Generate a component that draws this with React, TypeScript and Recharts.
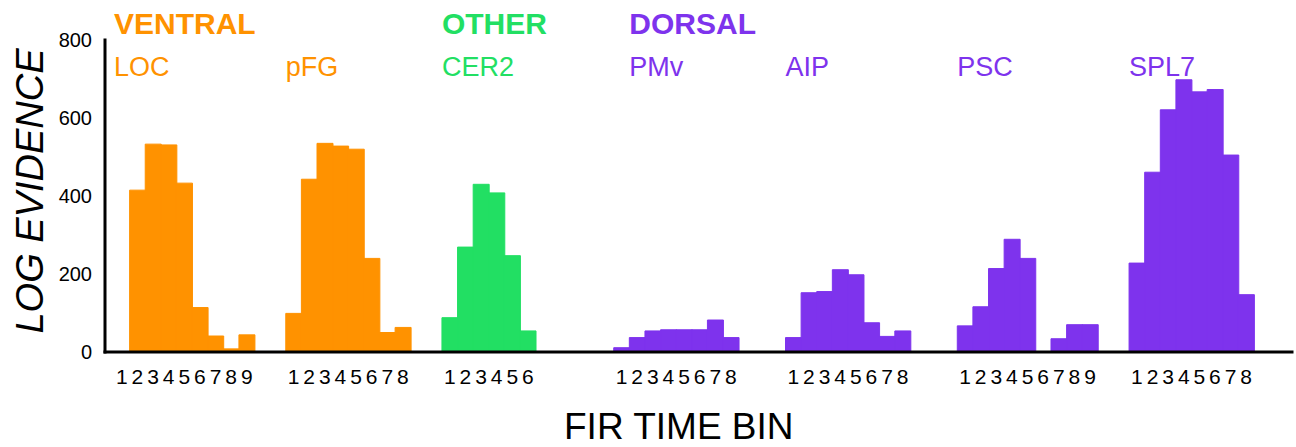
import React from 'react';
import { BarChart, Bar, XAxis, YAxis, Cell, ReferenceLine } from 'recharts';

// ---- data ----
const REGIONS = ['LOC', 'pFG', 'CER2', 'PMv', 'AIP', 'PSC', 'SPL7'];
const REGION_GROUP = ['VENTRAL', 'VENTRAL', 'OTHER', 'DORSAL', 'DORSAL', 'DORSAL', 'DORSAL'];
const GAP_SLOTS_BEFORE = [0, 2, 2, 5, 3, 3, 2];

const LOC = [0, 415, 533, 531, 433, 114, 41, 8, 44];
const PFG = [99, 443, 535, 528, 520, 240, 50, 63];
const CER2 = [88, 269, 430, 408, 247, 54];
const PMV = [11, 37, 54, 57, 57, 57, 82, 37];
const AIP = [37, 152, 155, 211, 198, 75, 40, 54];
const PSC = [67, 116, 214, 289, 240, 0, 34, 70, 70];
const SPL7 = [228, 461, 621, 698, 667, 673, 505, 147];
const SERIES = [LOC, PFG, CER2, PMV, AIP, PSC, SPL7];

const Y_TICKS = [0, 200, 400, 600, 800];

const GROUP_COLORS: Record<string, string> = {
  VENTRAL: '#FF9200',
  OTHER: '#22DF63',
  DORSAL: '#7E33ED',
};

// ---- table ----
type Row = { key: string; label: string; value: number | null; group: string };
const rows: Row[] = [];
REGIONS.forEach((r, i) => {
  for (let g = 0; g < GAP_SLOTS_BEFORE[i]; g++) {
    rows.push({ key: `gap-${i}-${g}`, label: '', value: null, group: '' });
  }
  SERIES[i].forEach((v, b) => {
    rows.push({ key: `${r}-${b + 1}`, label: String(b + 1), value: v, group: REGION_GROUP[i] });
  });
});
const labelOf = new Map(rows.map((r) => [r.key, r.label]));

const FONT = '"Liberation Sans", Arial, Helvetica, sans-serif';

const header = (top: string | null, name: string, color: string) => (props: any) => {
  const x = props.viewBox ? props.viewBox.x : 0;
  return (
    <g>
      {top && (
        <text x={x} y={34} fill={color} fontSize={30} fontWeight="bold" fontFamily={FONT}>
          {top}
        </text>
      )}
      <text x={x} y={76} fill={color} fontSize={27} fontFamily={FONT}>
        {name}
      </text>
    </g>
  );
};

const HEADERS: { key: string; top: string | null; name: string; color: string }[] = [
  { key: 'LOC-1', top: 'VENTRAL', name: 'LOC', color: GROUP_COLORS.VENTRAL },
  { key: 'pFG-1', top: null, name: 'pFG', color: GROUP_COLORS.VENTRAL },
  { key: 'CER2-1', top: 'OTHER', name: 'CER2', color: GROUP_COLORS.OTHER },
  { key: 'PMv-2', top: 'DORSAL', name: 'PMv', color: GROUP_COLORS.DORSAL },
  { key: 'AIP-1', top: null, name: 'AIP', color: GROUP_COLORS.DORSAL },
  { key: 'PSC-1', top: null, name: 'PSC', color: GROUP_COLORS.DORSAL },
  { key: 'SPL7-1', top: null, name: 'SPL7', color: GROUP_COLORS.DORSAL },
];

const YTick = (p: any) => (
  <text x={p.x} y={p.y} dy={7} textAnchor="end" fontSize={20} fill="#000" fontFamily={FONT}>
    {p.payload.value}
  </text>
);

const XTick = (p: any) => (
  <text x={p.x} y={p.y} dy={15} textAnchor="middle" fontSize={21} fill="#000" fontFamily={FONT}>
    {labelOf.get(p.payload.value) || ''}
  </text>
);

export default function App() {
  return (
    <div style={{ position: 'absolute', left: 0, top: 0, width: 1296, height: 447, background: '#fff' }}>
      <BarChart
        width={1296}
        height={447}
        data={rows}
        margin={{ top: 40, right: 4, bottom: 0, left: 0 }}
        barCategoryGap={0}
        barGap={0}
      >
        <Bar dataKey="value" isAnimationActive={false} strokeWidth={1}>
          {rows.map((r) => (
            <Cell key={r.key} fill={GROUP_COLORS[r.group] || 'none'} stroke={GROUP_COLORS[r.group] || 'none'} />
          ))}
        </Bar>
        {HEADERS.map((h) => (
          <ReferenceLine
            key={h.key}
            x={h.key}
            position="start"
            stroke="none"
            label={header(h.top, h.name, h.color)}
          />
        ))}
        <YAxis
          type="number"
          domain={[0, 800]}
          ticks={Y_TICKS}
          width={105}
          tickLine={false}
          tickMargin={7}
          axisLine={{ stroke: '#000', strokeWidth: 3, strokeLinecap: 'square' }}
          tick={<YTick />}
          label={(p: any) => (
            <text
              x={43}
              y={191}
              transform="rotate(-90, 43, 191)"
              textAnchor="middle"
              fontSize={38}
              fontStyle="italic"
              fill="#000"
              fontFamily={FONT}
            >
              LOG EVIDENCE
            </text>
          )}
        />
        <XAxis
          dataKey="key"
          type="category"
          interval={0}
          height={95}
          padding={{ left: 9, right: 38 }}
          tickLine={false}
          tickMargin={11}
          axisLine={{ stroke: '#000', strokeWidth: 3, strokeLinecap: 'square' }}
          tick={<XTick />}
          label={(p: any) => (
            <text x={564} y={439} fontSize={37} fill="#000" fontFamily={FONT}>
              FIR TIME BIN
            </text>
          )}
        />
      </BarChart>
    </div>
  );
}
